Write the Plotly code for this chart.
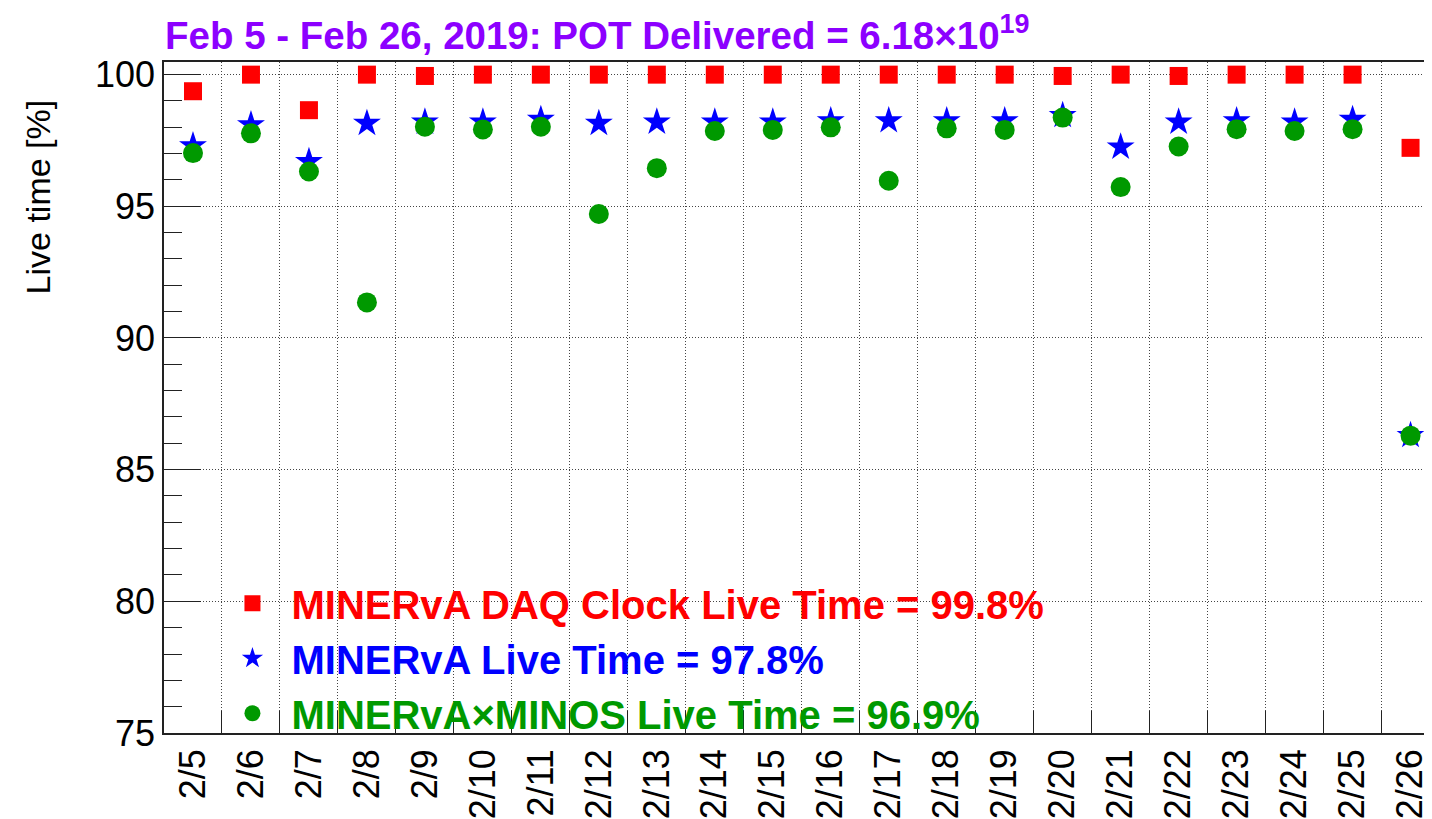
import plotly.graph_objects as go

dates = ["2/5", "2/6", "2/7", "2/8", "2/9", "2/10", "2/11", "2/12", "2/13", "2/14", "2/15",
         "2/16", "2/17", "2/18", "2/19", "2/20", "2/21", "2/22", "2/23", "2/24", "2/25", "2/26"]
daq_clock_live = [99.37, 100.0, 98.65, 100.0, 99.95, 100.0, 100.0, 100.0, 100.0, 100.0, 100.0,
                  100.0, 100.0, 100.0, 100.0, 99.95, 100.0, 99.95, 100.0, 100.0, 100.0, 97.22]
minerva_live = [97.3, 98.1, 96.7, 98.15, 98.2, 98.2, 98.3, 98.15, 98.2, 98.2, 98.2,
                98.25, 98.25, 98.25, 98.25, 98.45, 97.25, 98.2, 98.25, 98.2, 98.3, 86.3]
minerva_minos_live = [97.02, 97.77, 96.32, 91.35, 98.02, 97.92, 98.02, 94.71, 96.45, 97.86, 97.9,
                      98.0, 95.97, 97.96, 97.9, 98.37, 95.73, 97.27, 97.93, 97.86, 97.93, 86.29]
legend_labels = ["MINERvA DAQ Clock Live Time = 99.8%",
                 "MINERvA Live Time = 97.8%",
                 "MINERvA\u00d7MINOS Live Time = 96.9%"]
title_text = "Feb 5 - Feb 26, 2019: POT Delivered = 6.18\u00d710<sup>19</sup>"
y_title = "Live time [%]"

x = list(range(len(dates)))
edges = [i + 0.5 for i in range(len(dates) - 1)]

RED, BLUE, GREEN, PURPLE = "#ff0000", "#0000ff", "#009900", "#8c00ff"
FONT = "Liberation Sans, Arial, Helvetica, sans-serif"

W, H = 1424, 811          # page body has an 8px margin
L, T, B = 156, 54, 84
PW, PH = W - L, H - T - B

fig = go.Figure()
series = [
    (daq_clock_live, legend_labels[0], RED, "square", 18),
    (minerva_live, legend_labels[1], BLUE, "star", 21),
    (minerva_minos_live, legend_labels[2], GREEN, "circle", 20),
]
for i, (vals, label, col, sym, sz) in enumerate(series):
    fig.add_trace(go.Scatter(
        x=x, y=vals, mode="markers",
        name=f"<span style='color:{col}'><b>{label}</b></span>",
        legendgroup=f"g{i}",
        marker=dict(symbol=sym, size=sz, color=col, line=dict(width=0)),
    ))

fig.update_layout(
    width=W, height=H,
    margin=dict(l=L, r=0, t=T, b=B, pad=0),
    paper_bgcolor="white", plot_bgcolor="white",
    font=dict(family=FONT, size=36, color="black"),
    showlegend=True,
    legend=dict(
        x=0.039, y=0.2418, xanchor="left", yanchor="top",
        bgcolor="rgba(0,0,0,0)", borderwidth=0,
        font=dict(family=FONT, size=40),
        tracegroupgap=0, itemsizing="trace", itemwidth=68,
    ),
    title=dict(
        text=f"<b>{title_text}</b>",
        font=dict(family=FONT, size=38.5, color=PURPLE),
        x=157 / W, xanchor="left", xref="container",
        y=1 - 28 / H, yanchor="middle", yref="container",
    ),
    xaxis=dict(
        range=[-0.5, 21.37],
        tickmode="array", tickvals=x, ticktext=dates,
        tickangle=-90, ticks="", showgrid=False,
        tickfont=dict(family=FONT, size=36, color="black"),
        ticklabelstandoff=0,
        showline=True, linecolor="#222", linewidth=1.5, mirror=True,
        zeroline=False,
        minor=dict(tickmode="array", tickvals=edges, ticks="inside", ticklen=22,
                   tickwidth=1, tickcolor="#222", showgrid=True,
                   gridcolor="#444", gridwidth=1, griddash="1px,2px"),
    ),
    yaxis=dict(
        range=[75, 100.48],
        tickmode="linear", tick0=75, dtick=5,
        ticks="inside", ticklen=37, tickwidth=1, tickcolor="#222",
        showgrid=True, gridcolor="#444", gridwidth=1, griddash="1px,2px",
        tickfont=dict(family=FONT, size=36, color="black"),
        ticklabelstandoff=0,
        showline=True, linecolor="#222", linewidth=1.5, mirror=False,
        zeroline=False,
        minor=dict(tick0=75, dtick=1, ticks="inside", ticklen=18, tickwidth=1,
                   tickcolor="#222", showgrid=False),
    ),
    annotations=[dict(
        text=y_title, textangle=-90, showarrow=False,
        xref="paper", yref="paper",
        x=(30 - L) / PW, xanchor="center",
        y=(T + PH - 89) / PH, yanchor="top",
        font=dict(family=FONT, size=34, color="black"),
    )],
)

fig.write_html("out.html")
